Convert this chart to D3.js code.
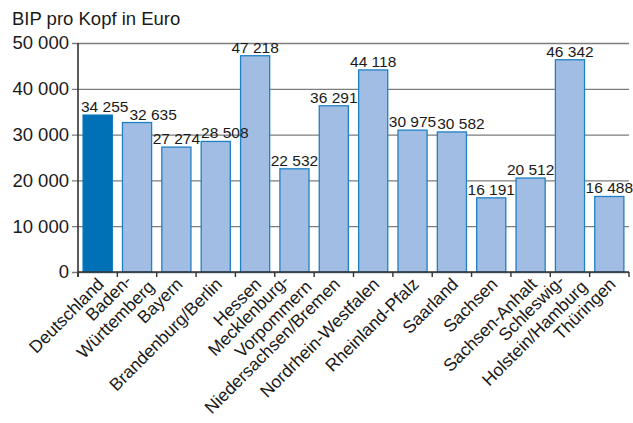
<!DOCTYPE html>
<html>
<head>
<meta charset="utf-8">
<script src="https://cdn.jsdelivr.net/npm/d3@7"></script>
<style>
  body { margin: 0; background: #fff; }
  text { font-family: "Liberation Sans", Arial, sans-serif; fill: #1a1a1a; }
</style>
</head>
<body>
<div id="chart"></div>
<script>
// Bruttoinlandsprodukt je Einwohner nach Ländern
var regions = ['Deutschland', 'Baden-|Württemberg', 'Bayern', 'Brandenburg/Berlin', 'Hessen',
  'Mecklenburg-|Vorpommern', 'Niedersachsen/Bremen', 'Nordrhein-Westfalen', 'Rheinland-Pfalz',
  'Saarland', 'Sachsen', 'Sachsen-Anhalt', 'Schleswig-|Holstein/Hamburg', 'Thüringen'];
var bipValues = [34255, 32635, 27274, 28508, 47218, 22532, 36291, 44118, 30975, 30582,
  16191, 20512, 46342, 16488];
var yTicks = [0, 10000, 20000, 30000, 40000, 50000];

var width = 633, height = 423;
var margin = { top: 43, right: 4, bottom: 151, left: 78 };

var de = d3.formatLocale({ decimal: ',', thousands: ' ', grouping: [3], currency: ['', ' €'] });
var fmt = de.format(',d');

var svg = d3.select('#chart').append('svg')
  .attr('width', width)
  .attr('height', height);

var x = d3.scaleBand()
  .domain(regions)
  .range([margin.left, width - margin.right])
  .paddingInner(0.26)
  .paddingOuter(0.13);

var y = d3.scaleLinear()
  .domain([0, 50000])
  .range([height - margin.bottom, margin.top]);

// title
svg.append('text')
  .attr('x', 12)
  .attr('y', 25)
  .style('font-size', '18.5px')
  .text('BIP pro Kopf in Euro');

// grid lines + y axis labels
var yAxis = svg.append('g')
  .attr('transform', 'translate(' + margin.left + ',0)')
  .call(d3.axisLeft(y).tickValues(yTicks).tickFormat(fmt)
    .tickSize(-(width - margin.left - margin.right)).tickPadding(9));
yAxis.select('.domain').remove();
yAxis.selectAll('.tick line')
  .attr('x1', -6)
  .attr('stroke', '#7d7d7d')
  .attr('stroke-width', 1.3);
yAxis.selectAll('.tick text')
  .attr('fill', '#1a1a1a')
  .style('font-size', '18.5px')
  .style('font-family', '"Liberation Sans", Arial, sans-serif');

// bars
svg.selectAll('rect.bar')
  .data(bipValues)
  .enter().append('rect')
  .attr('class', 'bar')
  .attr('x', function (d, i) { return x(regions[i]); })
  .attr('y', function (d) { return y(d); })
  .attr('width', x.bandwidth())
  .attr('height', function (d) { return y(0) - y(d); })
  .attr('fill', function (d, i) { return i === 0 ? '#0071b6' : '#a2bde3'; })
  .attr('stroke', function (d, i) { return i === 0 ? '#0071b6' : '#1f80c4'; })
  .attr('stroke-width', 1.3);

// value labels (kept inside the plot and pushed apart when they collide)
var vals = svg.selectAll('text.val')
  .data(bipValues)
  .enter().append('text')
  .attr('class', 'val')
  .attr('x', function (d, i) { return x(regions[i]) + x.bandwidth() / 2; })
  .attr('y', function (d) { return y(d) - 3; })
  .attr('text-anchor', 'middle')
  .style('font-size', '15.5px')
  .text(function (d) { return fmt(d); });

var prev = null;
vals.each(function (d, i) {
  var el = d3.select(this);
  var w = this.getComputedTextLength();
  var cx = +el.attr('x');
  var cy = +el.attr('y');
  var left = cx - w / 2;
  if (left < margin.left + 3) left = margin.left + 3;
  if (prev && Math.abs(prev.y - cy) < 15 && left < prev.right + 1) left = prev.right + 1;
  el.attr('x', left + w / 2);
  prev = { right: left + w, y: cy };
});

// axis lines and ticks at band edges
var step = x.step();
var edges = regions.map(function (r) { return x(r) - step * x.paddingInner() / 2; });
edges.push(width - margin.right);
svg.append('line')
  .attr('x1', margin.left).attr('x2', width - margin.right)
  .attr('y1', y(0)).attr('y2', y(0))
  .attr('stroke', '#333').attr('stroke-width', 1.6);
svg.append('line')
  .attr('x1', margin.left).attr('x2', margin.left)
  .attr('y1', y(50000)).attr('y2', y(0) + 5)
  .attr('stroke', '#333').attr('stroke-width', 1.6);
svg.selectAll('line.xtick')
  .data(edges)
  .enter().append('line')
  .attr('class', 'xtick')
  .attr('x1', function (d) { return d; }).attr('x2', function (d) { return d; })
  .attr('y1', y(0)).attr('y2', y(0) + 5)
  .attr('stroke', '#333').attr('stroke-width', 1.4);

// category labels, rotated
var cat = svg.selectAll('g.cat')
  .data(regions)
  .enter().append('g')
  .attr('class', 'cat')
  .attr('transform', function (d) {
    return 'translate(' + (x(d) + x.bandwidth() / 2 + 3) + ',' + (y(0) + 9) + ') rotate(-45)';
  });
cat.each(function (d) {
  var lines = d.split('|');
  var t = d3.select(this).append('text')
    .attr('text-anchor', 'end')
    .style('font-size', '17.5px');
  if (lines.length === 1) {
    t.append('tspan').attr('x', 0).attr('dy', '0.35em').text(lines[0]);
  } else {
    t.append('tspan').attr('x', -6).attr('dy', '-0.25em').text(lines[0]);
    t.append('tspan').attr('x', 6).attr('dy', '1.15em').text(lines[1]);
  }
});
</script>
</body>
</html>
